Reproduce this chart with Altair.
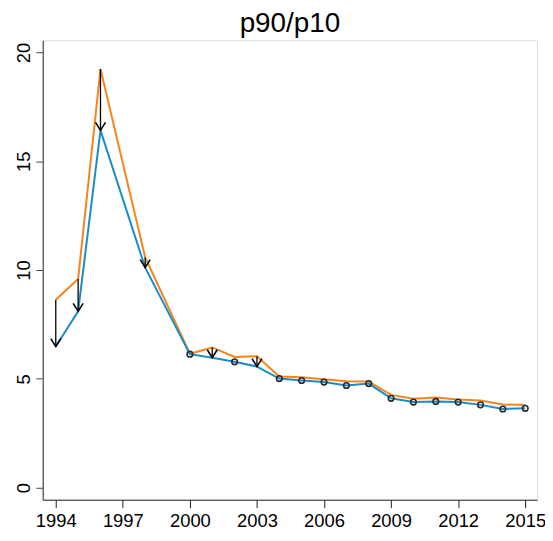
import altair as alt
import pandas as pd

# ---- data ----
years = [1994, 1995, 1996, 1998, 2000, 2001, 2002, 2003, 2004, 2005, 2006,
         2007, 2008, 2009, 2010, 2011, 2012, 2013, 2014, 2015]
p_before = [8.63, 9.59, 19.24, 10.58, 6.15, 6.44, 6.00, 6.04, 5.10, 5.07, 4.98,
            4.89, 4.87, 4.26, 4.08, 4.14, 4.05, 4.00, 3.82, 3.79]
p_after = [6.48, 8.10, 16.42, 10.11, 6.13, 5.97, 5.78, 5.56, 5.01, 4.92, 4.85,
           4.69, 4.78, 4.10, 3.93, 3.96, 3.93, 3.80, 3.61, 3.64]
arrow_years = [1994, 1995, 1996, 1998, 2001, 2003]
x_ticks = [1994, 1997, 2000, 2003, 2006, 2009, 2012, 2015]
y_ticks = [0, 5, 10, 15, 20]
title_text = "p90/p10"

df = pd.DataFrame({"year": years, "before": p_before, "after": p_after})
df["arrow"] = df["year"].isin(arrow_years)
arrows = df[df["arrow"]]
circles = df[~df["arrow"]]

FONT = "Liberation Sans"
xscale = alt.Scale(domain=[1993.42, 2015.53], nice=False, zero=False)
yscale = alt.Scale(domain=[-0.56, 20.56], nice=False, zero=False)

x_axis = alt.Axis(values=x_ticks, format="d", title=None, grid=False,
                  labelFontSize=18.5, labelFont=FONT, labelColor="black",
                  tickSize=8, tickColor="#222", domainColor="#222",
                  labelPadding=4, labelFlush=False, labelOverlap=False)
y_axis = alt.Axis(values=y_ticks, title=None, grid=False,
                  labelFontSize=18.5, labelFont=FONT, labelColor="black",
                  labelAngle=270, labelAlign="center", labelBaseline="alphabetic",
                  labelPadding=6, tickSize=7, tickColor="#444",
                  domainColor="#666", domainWidth=1.5)

X = alt.X("year:Q", scale=xscale, axis=x_axis)


def Y(field):
    return alt.Y(f"{field}:Q", scale=yscale, axis=y_axis)


base = alt.Chart(df)

line_before = base.mark_line(color="#F7841C", strokeWidth=2).encode(
    x=X, y=Y("before"))
line_after = base.mark_line(color="#1A8DC7", strokeWidth=2).encode(
    x=X, y=Y("after"))

shafts = alt.Chart(arrows).mark_rule(color="black", strokeWidth=1.3).encode(
    x=X, y=Y("before"), y2="after:Q")
heads = alt.Chart(arrows).mark_point(
    shape="M -1 -1.6 L 0 0 L 1 -1.6", filled=False, color="black",
    strokeWidth=1.6, size=100, opacity=1).encode(
    x=X, y=Y("after"))
dots = alt.Chart(circles).mark_point(
    shape="circle", filled=False, color="#2a2a2a", strokeWidth=1.6,
    size=32, opacity=1).encode(
    x=X, y=Y("after"))

chart = alt.layer(line_before, line_after, shafts, heads, dots).properties(
    width=497, height=462,
    title=alt.TitleParams(title_text, fontSize=28, font=FONT, fontWeight="normal",
                          anchor="middle", baseline="bottom", offset=2, dy=28,
                          color="black"),
    autosize=alt.AutoSizeParams(type="none"),
    padding={"left": 35, "top": 31, "right": 8, "bottom": 32},
).configure_view(strokeWidth=0, stroke="transparent").configure(background="white")

chart.save("out.html", embed_options={"renderer": "svg", "actions": False})
